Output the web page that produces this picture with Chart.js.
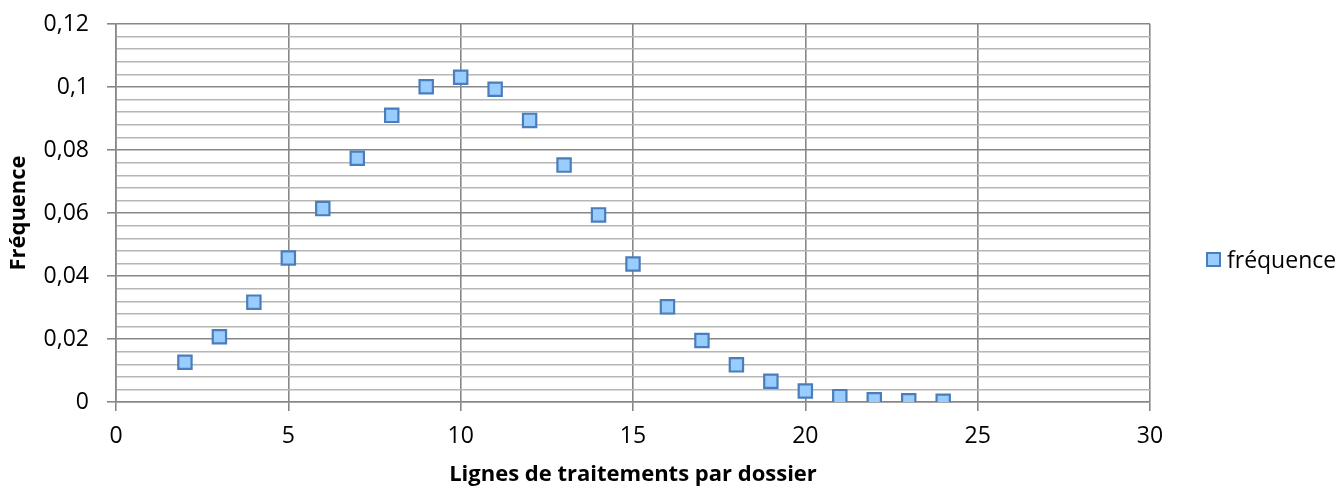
<!DOCTYPE html>
<html lang="fr">
<head>
<meta charset="utf-8">
<title>Fréquence</title>
<script src="https://cdn.jsdelivr.net/npm/chart.js@4/dist/chart.umd.min.js"></script>
<style>
  html, body { margin: 0; padding: 0; background: #fff; overflow: hidden; }
  #wrap { position: relative; width: 1340px; height: 486px; }
  #legend {
    position: absolute; left: 1206px; top: 243px;
    font: 23px "Open Sans", sans-serif; color: #000;
    display: flex; align-items: center; white-space: nowrap;
  }
  #legend .box {
    width: 15px; height: 15px; box-sizing: border-box;
    border: 2px solid #4a7ebb; background: #99ccff; margin-right: 6px;
  }
</style>
</head>
<body>
<div id="wrap">
  <canvas id="chart"></canvas>
  <div id="legend"><span class="box"></span><span>fréquence</span></div>
</div>
<script>
// Data
const lignes = [2, 3, 4, 5, 6, 7, 8, 9, 10, 11, 12, 13, 14, 15, 16, 17, 18, 19, 20, 21, 22, 23, 24];
const frequence = [0.0126, 0.0207, 0.0317, 0.0457, 0.0614, 0.0774, 0.091, 0.1001, 0.1031, 0.0993, 0.0894,
  0.0752, 0.0594, 0.0438, 0.0302, 0.0195, 0.0118, 0.0066, 0.0035, 0.0017, 0.0007, 0.0004, 0.0002];
const xTicks = [0, 5, 10, 15, 20, 25, 30];
const yMajorTicks = [0, 0.02, 0.04, 0.06, 0.08, 0.1, 0.12];
const yMinorStep = 0.004;

const MAJOR = '#878787';
const MINOR = '#b6b6b6';
const FONT = '"Open Sans", Lato, sans-serif';

function isMajorY(v) {
  return yMajorTicks.some(t => Math.abs(t - v) < 1e-6);
}

const points = lignes.map((x, i) => ({ x: x, y: frequence[i] }));

const ctx = document.getElementById('chart').getContext('2d');
new Chart(ctx, {
  type: 'scatter',
  data: {
    datasets: [{
      label: 'fréquence',
      data: points,
      pointStyle: 'rect',
      pointRadius: 9.4,
      pointHoverRadius: 9.4,
      pointBorderWidth: 2.2,
      borderColor: '#4a7ebb',
      backgroundColor: '#99ccff'
    }]
  },
  options: {
    responsive: true,
    maintainAspectRatio: false,
    animation: false,
    devicePixelRatio: 1,
    layout: { padding: { top: 24, right: 190, left: 0, bottom: 0 } },
    plugins: {
      legend: { display: false },
      tooltip: { enabled: false }
    },
    scales: {
      x: {
        type: 'linear',
        min: 0,
        max: 30,
        afterBuildTicks: scale => { scale.ticks = xTicks.map(v => ({ value: v })); },
        afterFit: scale => { scale.height = 84; },
        ticks: {
          color: '#000',
          font: { family: FONT, size: 23 },
          padding: 12,
          callback: v => String(v)
        },
        grid: {
          color: MAJOR,
          lineWidth: 1.6,
          tickLength: 9,
          tickColor: MAJOR,
          tickWidth: 1.6
        },
        border: { color: MAJOR, width: 1.6 },
        title: {
          display: true,
          text: 'Lignes de traitements par dossier',
          color: '#000',
          font: { family: FONT, size: 22, weight: 'bold' },
          padding: { top: 0, bottom: -2 }
        }
      },
      y: {
        type: 'linear',
        min: 0,
        max: 0.12,
        afterBuildTicks: scale => {
          const t = [];
          for (let i = 0; i <= 30; i++) t.push({ value: Math.round(i * yMinorStep * 10000) / 10000 });
          scale.ticks = t;
        },
        afterFit: scale => {
          scale.width = 116;
          scale.paddingTop = 0;
          scale.paddingBottom = 0;
        },
        ticks: {
          autoSkip: false,
          color: '#000',
          font: { family: FONT, size: 23 },
          padding: 18,
          callback: v => isMajorY(v) ? String(Math.round(v * 100) / 100).replace('.', ',') : ''
        },
        grid: {
          color: c => isMajorY(c.tick.value) ? MAJOR : MINOR,
          lineWidth: c => isMajorY(c.tick.value) ? 1.6 : 1.4,
          tickLength: 9,
          tickColor: c => isMajorY(c.tick.value) ? MAJOR : 'rgba(0,0,0,0)',
          tickWidth: 1.6
        },
        border: { color: MAJOR, width: 1.6 },
        title: {
          display: true,
          text: 'Fréquence',
          color: '#000',
          font: { family: FONT, size: 22, weight: 'bold' },
          padding: { top: 6, bottom: 0 }
        }
      }
    }
  }
});
</script>
</body>
</html>
